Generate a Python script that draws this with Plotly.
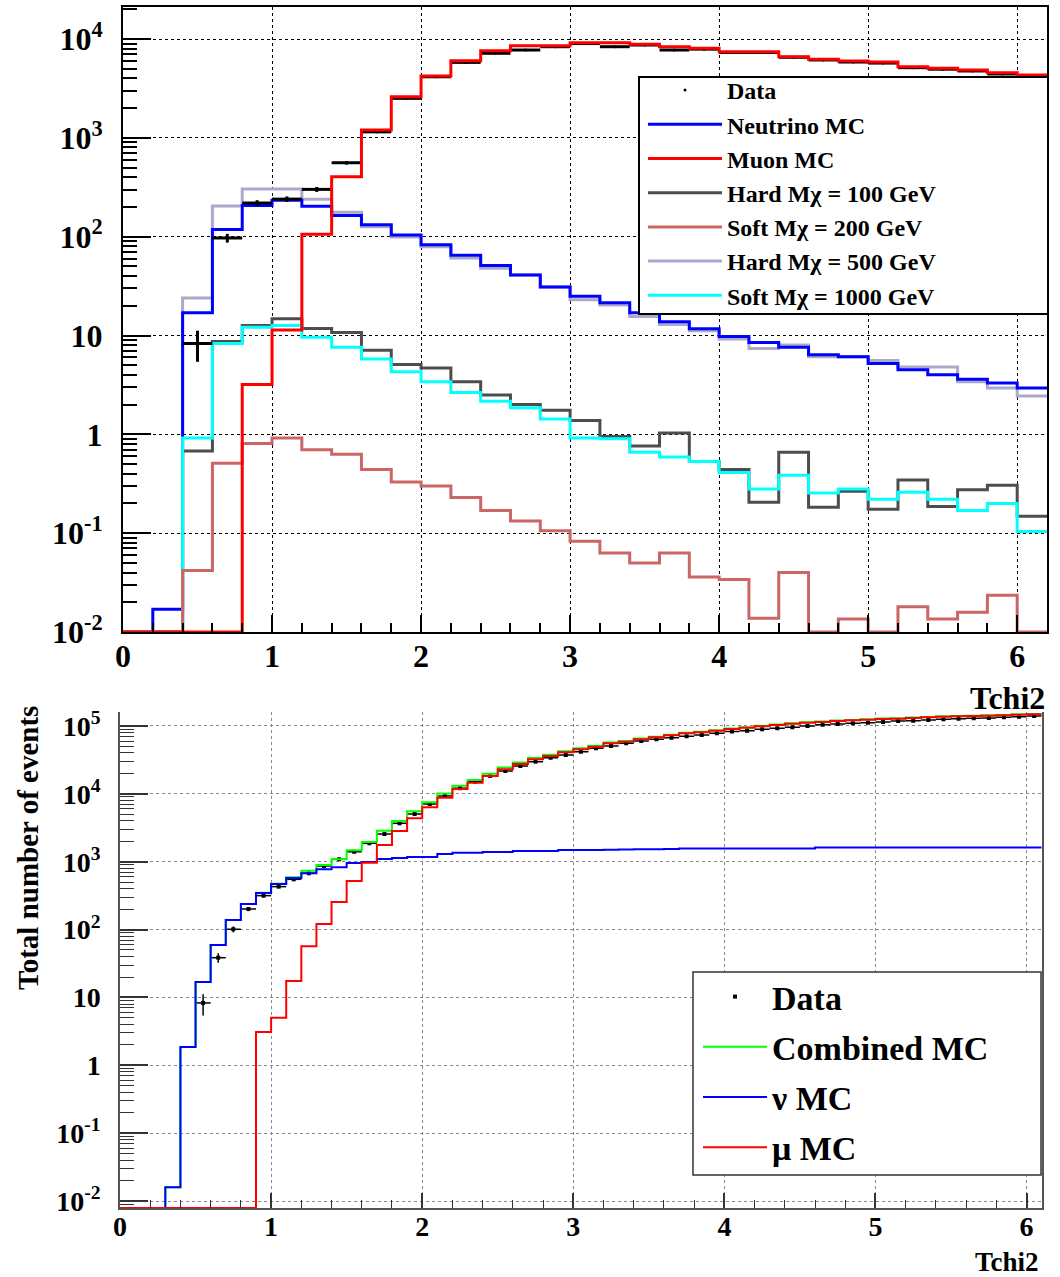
import numpy as np
import plotly.graph_objects as go

W, H = 1060, 1277
FONT = "Liberation Serif, Times New Roman, serif"

# ---------------- Top panel data (Tchi2 bins of 0.2 from 0 to 6.2) ----------------
top_edges = np.round(np.arange(0, 6.2001, 0.2), 3)

data_top = [0, 0, 8.3, 97, 219, 240, 301, 560, 1150, 2510, 4150, 5800, 7170, 7740, 8360, 9000,
            8360, 8700, 7740, 7900, 7300, 7300, 6530, 6140, 5850, 5710, 5130, 4950, 4750, 4430, 4260]
neutrino_mc = [0, 0.017, 17, 118, 207, 234, 203, 164, 132, 104, 83, 65, 51, 41, 31, 25,
               21.5, 17, 13.8, 11.7, 9.8, 8.5, 7.6, 6.4, 6.1, 5.2, 4.5, 4.0, 3.6, 3.3, 2.95]
muon_mc = [0, 0, 0, 0, 3.2, 11.4, 106, 404, 1200, 2610, 4230, 6030, 7620, 8550, 8550, 9180,
           9180, 8840, 8360, 8050, 7450, 7450, 6620, 6240, 5990, 5850, 5250, 5060, 4860, 4560, 4330]
hard_100 = [0, 0, 0.68, 8.7, 12.6, 14.8, 11.8, 10.7, 7.1, 5.1, 4.7, 3.4, 2.5, 2.0, 1.75, 1.38,
            0.95, 0.76, 1.03, 0.53, 0.44, 0.205, 0.66, 0.183, 0.265, 0.175, 0.345, 0.186, 0.275, 0.305, 0.148]
soft_200 = [0, 0, 0.042, 0.51, 0.81, 0.92, 0.7, 0.63, 0.44, 0.33, 0.3, 0.23, 0.17, 0.133, 0.106, 0.083,
            0.063, 0.05, 0.063, 0.036, 0.034, 0.0138, 0.04, 0, 0.0135, 0, 0.018, 0.0135, 0.0158, 0.0235, 0]
hard_500 = [0, 0, 24, 204, 303, 303, 239, 177, 126, 99, 79, 61, 48, 41, 31, 23,
            20.3, 15.6, 12.9, 11.2, 9.2, 7.4, 8.0, 6.1, 6.1, 5.6, 4.8, 4.8, 3.4, 2.95, 2.45]
soft_1000 = [0, 0, 0.92, 8.3, 12.1, 12.6, 9.6, 7.6, 5.8, 4.3, 3.4, 2.65, 2.16, 1.86, 1.43, 0.92,
             0.9, 0.66, 0.59, 0.53, 0.41, 0.28, 0.385, 0.255, 0.28, 0.22, 0.26, 0.22, 0.17, 0.2, 0.104]

# ---------------- Bottom panel data (cumulative, bins of 0.1 from 0 to 6.1) ----------------
bot_edges = np.round(np.arange(0, 6.1001, 0.1), 3)

nu_cum = [0, 0, 0, 0.016, 1.86, 16.9, 59, 138, 238, 346,
          468, 575, 677, 776, 830, 955, 990, 1095, 1135, 1175,
          1175, 1300, 1350, 1350, 1390, 1390, 1440, 1440, 1440, 1490,
          1490, 1490, 1500, 1510, 1520, 1530, 1540, 1560, 1560, 1560,
          1560, 1560, 1560, 1560, 1560, 1560, 1620, 1620, 1620, 1620,
          1620, 1620, 1620, 1620, 1620, 1620, 1620, 1620, 1620, 1620,
          1620]
mu_cum = [0, 0, 0, 0, 0, 0, 0, 0, 0, 3.1,
          5.0, 17.5, 57, 121, 255, 520, 968, 1760, 2840, 4370,
          6340, 8790, 11800, 14600, 18300, 23000, 27500, 32300, 36100, 40900,
          45300, 49600, 55600, 58700, 63700, 68100, 72900, 78000, 80700, 85300,
          90300, 94500, 98900, 103500, 108200, 112000, 114500, 118500, 121300, 124000,
          126800, 128200, 131200, 134200, 137300, 138800, 140400, 141900, 143500, 146800,
          148500]
data_cum = [0, 0, 0, 0, 0, 8.3, 38.5, 101, 201, 316,
            429, 550, 675, 865, 1085, 1400, 1870, 2560, 3680, 5050,
            7080, 9290, 12100, 15100, 18300, 21700, 25700, 29800, 34100, 37400,
            41800, 46900, 50700, 55600, 60100, 63700, 67300, 70800, 73700, 78000,
            82600, 85300, 89300, 92300, 95500, 100000, 104600, 107000, 109500, 112000,
            114500, 118500, 119900, 122600, 125400, 128200, 129700, 131200, 134200, 137200,
            140400]
combined_cum = [a + b for a, b in zip(nu_cum, mu_cum)]

TOP_YMIN, TOP_YMAX = -2.0, 4.324
BOT_YMIN, BOT_YMAX = -2.103, 5.206


def px(x):
    return x / W


def py(y):
    return 1 - y / H


def step_xy(edges, vals, floor):
    y = [v if v > 0 else floor for v in vals]
    return list(edges), y + [y[-1]]


fig = go.Figure()

# ---- top panel traces (draw order) ----
top_lines = [
    ("Hard M\u03c7 = 500 GeV", hard_500, "#aaaacb", 6),
    ("Neutrino MC", neutrino_mc, "#0000ff", 2),
    ("Hard M\u03c7 = 100 GeV", hard_100, "#4d4d4d", 4),
    ("Soft M\u03c7 = 1000 GeV", soft_1000, "#00ffff", 7),
    ("Soft M\u03c7 = 200 GeV", soft_200, "#cc6666", 5),
]
for name, vals, col, rank in top_lines:
    xs, ys = step_xy(top_edges, vals, 10 ** TOP_YMIN)
    fig.add_trace(go.Scatter(x=xs, y=ys, mode="lines", line=dict(shape="hv", color=col, width=3),
                             name=name, legend="legend", legendrank=rank,
                             xaxis="x", yaxis="y"))

idx = [i for i, v in enumerate(data_top) if v > 0]
xc = [(top_edges[i] + top_edges[i + 1]) / 2 for i in idx]
yv = [data_top[i] for i in idx]
fig.add_trace(go.Scatter(x=xc, y=yv, mode="markers", name="Data",
                         marker=dict(color="black", size=3),
                         error_x=dict(type="constant", value=0.1, thickness=3, width=0, color="black"),
                         error_y=dict(type="data", array=list(np.sqrt(yv)), thickness=3, width=0, color="black"),
                         legend="legend", legendrank=1, xaxis="x", yaxis="y"))

xs, ys = step_xy(top_edges, muon_mc, 10 ** TOP_YMIN)
fig.add_trace(go.Scatter(x=xs, y=ys, mode="lines", line=dict(shape="hv", color="#ff0000", width=3),
                         name="Muon MC", legend="legend", legendrank=3,
                         xaxis="x", yaxis="y"))

# ---- bottom panel traces ----
idx = [i for i, v in enumerate(data_cum) if v > 0]
xc = [(bot_edges[i] + bot_edges[i + 1]) / 2 for i in idx]
yv = [data_cum[i] for i in idx]
fig.add_trace(go.Scatter(x=xc, y=yv, mode="markers", name="Data",
                         marker=dict(color="black", size=4, symbol="square"),
                         error_x=dict(type="constant", value=0.05, thickness=1.5, width=0, color="black"),
                         error_y=dict(type="data", array=list(np.sqrt(yv)), thickness=1.5, width=0, color="black"),
                         legend="legend2", legendrank=1, legendgroup="bData", xaxis="x2", yaxis="y2"))
bot_lines = [
    ("Combined MC", combined_cum, "#00ff00", 2),
    ("\u03bd MC", nu_cum, "#0000ff", 3),
    ("\u03bc MC", mu_cum, "#ff0000", 4),
]
for name, vals, col, rank in bot_lines:
    xs, ys = step_xy(bot_edges, vals, 10 ** BOT_YMIN)
    fig.add_trace(go.Scatter(x=xs, y=ys, mode="lines", line=dict(shape="hv", color=col, width=2),
                             name=name, legend="legend2", legendrank=rank, legendgroup="b" + name,
                             xaxis="x2", yaxis="y2"))

# ---- axes ----
def log_minor(lo, hi):
    vals = []
    for p in range(int(np.floor(lo)), int(np.ceil(hi)) + 1):
        for k in range(2, 10):
            v = k * 10.0 ** p
            if 10 ** lo < v < 10 ** hi:
                vals.append(v)
    return vals


tick_font_top = dict(family=FONT, size=32, color="black", weight="bold")
tick_font_bot = dict(family=FONT, size=28, color="black", weight="bold")

top_yvals = [1e-2, 1e-1, 1, 10, 100, 1e3, 1e4]
top_ytext = ["10<sup>-2</sup>", "10<sup>-1</sup>", "1", "10", "10<sup>2</sup>", "10<sup>3</sup>", "10<sup>4</sup>"]
bot_yvals = [1e-2, 1e-1, 1, 10, 100, 1e3, 1e4, 1e5]
bot_ytext = ["10<sup>-2</sup>", "10<sup>-1</sup>", "1", "10", "10<sup>2</sup>", "10<sup>3</sup>",
             "10<sup>4</sup>", "10<sup>5</sup>"]

fig.update_layout(
    width=W, height=H, autosize=False,
    margin=dict(l=0, r=0, t=0, b=0, autoexpand=False),
    paper_bgcolor="white", plot_bgcolor="white",
    font=dict(family=FONT, color="black"),
    xaxis=dict(domain=[px(123), px(1047)], range=[0, 6.2], anchor="y", automargin=False,
               tickmode="array", tickvals=[0, 1, 2, 3, 4, 5, 6],
               ticks="inside", ticklen=17, tickwidth=2, tickcolor="black",
               minor=dict(tickmode="linear", tick0=0, dtick=0.2, ticks="inside", ticklen=9,
                          tickwidth=1.5, tickcolor="black", showgrid=False),
               showgrid=True, gridcolor="black", griddash="dot", gridwidth=1,
               showline=True, linecolor="black", linewidth=2, mirror=True, zeroline=False,
               tickfont=tick_font_top, ticklabelstandoff=-5),
    yaxis=dict(domain=[py(632), py(7)], type="log", range=[TOP_YMIN, TOP_YMAX], anchor="x", automargin=False,
               tickmode="array", tickvals=top_yvals, ticktext=top_ytext,
               ticks="inside", ticklen=28, tickwidth=2, tickcolor="black",
               minor=dict(tickmode="array", tickvals=log_minor(TOP_YMIN, TOP_YMAX), ticks="inside",
                          ticklen=14, tickwidth=1.5, tickcolor="black", showgrid=False),
               showgrid=True, gridcolor="black", griddash="dot", gridwidth=1,
               showline=True, linecolor="black", linewidth=2, mirror=True, zeroline=False,
               tickfont=tick_font_top, ticklabelstandoff=12),
    xaxis2=dict(domain=[px(120), px(1041.7)], range=[0, 6.1], anchor="y2", automargin=False,
                tickmode="array", tickvals=[0, 1, 2, 3, 4, 5, 6],
                ticks="inside", ticklen=15, tickwidth=1.5, tickcolor="#333",
                minor=dict(tickmode="linear", tick0=0, dtick=0.2, ticks="inside", ticklen=8,
                           tickwidth=1.2, tickcolor="#333", showgrid=False),
                showgrid=True, gridcolor="#888", griddash="dot", gridwidth=1,
                showline=True, linecolor="#555", linewidth=1.5, mirror=False, zeroline=False,
                tickfont=tick_font_bot, ticklabelstandoff=-7),
    yaxis2=dict(domain=[py(1208), py(712)], type="log", range=[BOT_YMIN, BOT_YMAX], anchor="x2", automargin=False,
                tickmode="array", tickvals=bot_yvals, ticktext=bot_ytext,
                ticks="inside", ticklen=28, tickwidth=1.5, tickcolor="#333",
                minor=dict(tickmode="array", tickvals=log_minor(BOT_YMIN, BOT_YMAX), ticks="inside",
                           ticklen=14, tickwidth=1.2, tickcolor="#333", showgrid=False),
                showgrid=True, gridcolor="#888", griddash="dot", gridwidth=1,
                showline=True, linecolor="#555", linewidth=1.5, mirror=True, zeroline=False,
                tickfont=tick_font_bot, ticklabelstandoff=12),
    legend=dict(x=px(643), y=py(68), xanchor="left", yanchor="top",
                bgcolor="rgba(0,0,0,0)", borderwidth=0, itemwidth=74,
                traceorder="normal", tracegroupgap=0,
                font=dict(family=FONT, size=24, color="black", weight="bold")),
    legend2=dict(x=px(698), y=py(968), xanchor="left", yanchor="top",
                 bgcolor="rgba(0,0,0,0)", borderwidth=0, itemwidth=64,
                 traceorder="grouped", tracegroupgap=3,
                 font=dict(family=FONT, size=34, color="black", weight="bold")),
    shapes=[
        dict(type="rect", xref="paper", yref="paper", x0=px(639), x1=px(1048), y0=py(314), y1=py(77),
             fillcolor="white", line=dict(color="black", width=2), layer="above"),
        dict(type="rect", xref="paper", yref="paper", x0=px(693), x1=px(1041), y0=py(1175), y1=py(972),
             fillcolor="white", line=dict(color="#333", width=1.5), layer="above"),
    ],
    annotations=[
        dict(text="Tchi2", xref="paper", yref="paper", x=px(1047), y=py(698), xanchor="right",
             yanchor="middle", showarrow=False, font=dict(family=FONT, size=32, color="black", weight="bold")),
        dict(text="Tchi2", xref="paper", yref="paper", x=px(1041), y=py(1262), xanchor="right",
             yanchor="middle", showarrow=False, font=dict(family=FONT, size=27, color="black", weight="bold")),
        dict(text="Total number of events", xref="paper", yref="paper", x=px(28), y=py(848),
             xanchor="center", yanchor="middle", textangle=-90, showarrow=False,
             font=dict(family=FONT, size=29, color="black", weight="bold")),
    ],
)

fig.write_html("out.html")
